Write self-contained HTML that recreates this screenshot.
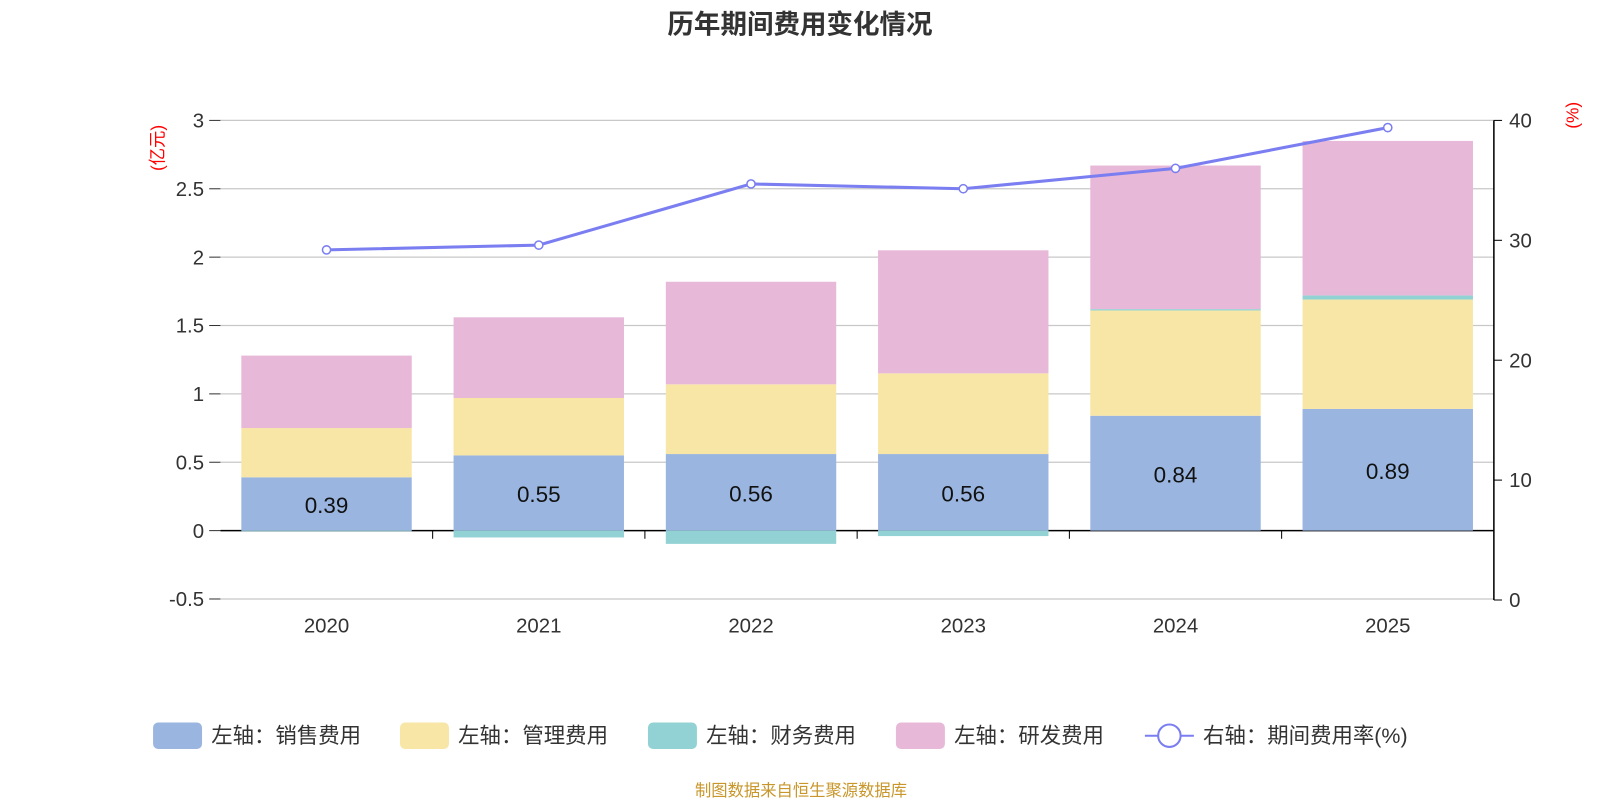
<!DOCTYPE html>
<html><head><meta charset="utf-8"><style>
body{margin:0;background:#fff;font-family:"Liberation Sans","Noto Sans CJK SC",sans-serif;overflow:hidden;}
</style></head><body>
<svg id="chart" width="1600" height="800" viewBox="0 0 1568 784" xmlns="http://www.w3.org/2000/svg" font-family="Liberation Sans, Noto Sans CJK SC, sans-serif">
<text x="784" y="33" text-anchor="middle" font-size="26" font-weight="bold" fill="#333">历年期间费用变化情况</text>
<text transform="translate(160,145) rotate(-90)" text-anchor="middle" font-size="17" fill="red">(亿元)</text>
<text transform="translate(1547,113) rotate(-90)" text-anchor="middle" font-size="17" fill="red">(%)</text>
<g id="grid"></g><g id="bars"></g><g id="axes"></g><g id="line"></g>
<g font-size="21" fill="#333">
<rect x="150" y="708" width="48" height="26" rx="5" fill="#9ab6e0"/><text x="207" y="728">左轴：销售费用</text>
<rect x="392" y="708" width="48" height="26" rx="5" fill="#f8e6a6"/><text x="449" y="728">左轴：管理费用</text>
<rect x="635" y="708" width="48" height="26" rx="5" fill="#93d2d4"/><text x="692" y="728">左轴：财务费用</text>
<rect x="878" y="708" width="48" height="26" rx="5" fill="#e7b8d8"/><text x="935" y="728">左轴：研发费用</text>
<g><line x1="1122" y1="721" x2="1170" y2="721" stroke="#7a7ef0" stroke-width="2"/><circle cx="1146" cy="721" r="11" fill="#fff" stroke="#7a7ef0" stroke-width="2"/></g><text x="1179" y="728">右轴：期间费用率(%)</text>
</g>
<text x="785" y="780" text-anchor="middle" font-size="16" fill="#c8962a">制图数据来自恒生聚源数据库</text>
</svg>
<script>
const categories=["2020","2021","2022","2023","2024","2025"];
const sales=[0.39,0.55,0.56,0.56,0.84,0.89];
const admin=[0.36,0.42,0.51,0.59,0.77,0.80];
const finance=[-0.005,-0.05,-0.097,-0.04,0.01,0.03];
const rd=[0.53,0.59,0.75,0.90,1.05,1.13];
const rate=[29.2,29.6,34.7,34.3,36.0,39.4];
const leftTicks=[-0.5,0,0.5,1,1.5,2,2.5,3];
const leftTickLabels=["-0.5","0","0.5","1","1.5","2","2.5","3"];
const rightTicks=[0,10,20,30,40];
const NS="http://www.w3.org/2000/svg";
const x0=216,x1=1464,band=(x1-x0)/categories.length,bw=167;
const yL=v=>520-v*134;
const yR=v=>588-v*11.75;
function mk(t,a,p){const e=document.createElementNS(NS,t);for(const k in a)e.setAttribute(k,a[k]);document.getElementById(p).appendChild(e);return e;}
leftTicks.forEach((v,i)=>{
 const g=mk('line',{x1:x0,x2:x1,y1:yL(v),y2:yL(v),stroke:v===0?'#000':'#c8c8c8','stroke-width':v===0?1.5:1.2},'grid');
 
 
 const t=mk('text',{x:200,y:yL(v)+7,'text-anchor':'end','font-size':20,fill:'#333'},'axes');t.textContent=leftTickLabels[i];
 
 
 mk('line',{x1:205,x2:x0,y1:yL(v),y2:yL(v),stroke:'#333'},'axes');
});
const ra=mk('line',{x1:x1,x2:x1,y1:yR(40),y2:yR(0),stroke:'#000','stroke-width':1.5},'axes');


rightTicks.forEach(v=>{
 mk('line',{x1:x1,x2:x1+8,y1:yR(v),y2:yR(v),stroke:'#000'},'axes');
 const t=mk('text',{x:x1+15,y:yR(v)+7,'font-size':20,fill:'#333'},'axes');t.textContent=v;
 
 
});
categories.forEach((c,i)=>{
 const cx=x0+band*(i+0.5),bx=cx-bw/2;
 if(i>0)mk('line',{x1:x0+band*i,x2:x0+band*i,y1:520,y2:528,stroke:'#000'},'axes');
 const t=mk('text',{x:cx,y:620,'text-anchor':'middle','font-size':20,fill:'#333'},'axes');t.textContent=c;
 
 
 let pos=0;
 const segs=[[sales[i],'#9ab6e0','bar-sales'],[admin[i],'#f8e6a6','bar-admin'],[finance[i],'#93d2d4','bar-finance'],[rd[i],'#e7b8d8','bar-rd']];
 segs.forEach(([v,col,nm])=>{
  let y,h;
  if(v>=0){y=yL(pos+v);h=yL(pos)-y;pos+=v;}else{y=yL(0);h=yL(v)-yL(0);}
  const r=mk('rect',{x:bx,y:y,width:bw,height:Math.max(h,0),fill:col},'bars');
  
  
 });
 const lb=mk('text',{x:cx,y:(yL(0)+yL(sales[i]))/2+9,'text-anchor':'middle','font-size':22,fill:'#111'},'bars');
 lb.textContent=sales[i].toFixed(2);
 
 
});
const pts=rate.map((v,i)=>[x0+band*(i+0.5),yR(v)]);
const pl=mk('polyline',{points:pts.map(p=>p.join(',')).join(' '),fill:'none',stroke:'#7a7ef0','stroke-width':3},'line');


pts.forEach(p=>{const c=mk('circle',{cx:p[0],cy:p[1],r:4,fill:'#fff',stroke:'#7a7ef0','stroke-width':1.5},'line');
 
 });
</script>
</body></html>
